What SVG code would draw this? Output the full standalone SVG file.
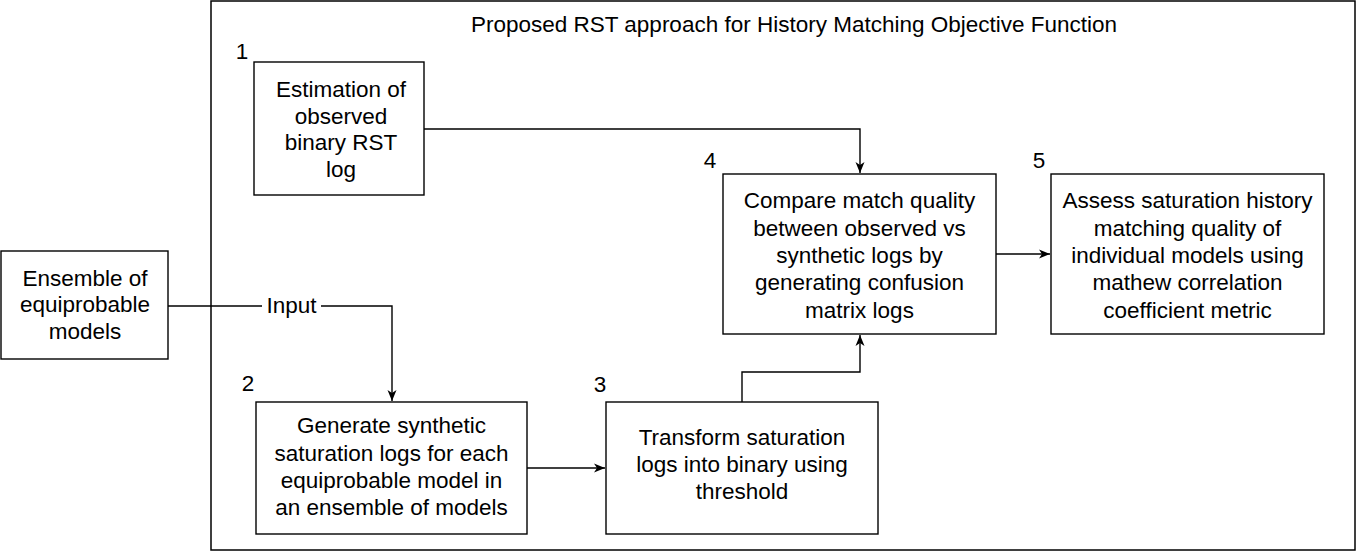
<svg xmlns="http://www.w3.org/2000/svg" width="1360" height="552" viewBox="0 0 1360 552">
<defs>
<style>
.box{fill:#fff;stroke:#000;stroke-width:1.4}
.frame{fill:none;stroke:#000;stroke-width:1.5}
.edge{fill:none;stroke:#000;stroke-width:1.4}
text{font-family:"Liberation Sans",Arial,Helvetica,sans-serif;font-size:22.5px;fill:#000}
.c{text-anchor:middle}
</style>
<marker id="arr" markerUnits="userSpaceOnUse" markerWidth="12" markerHeight="10" viewBox="0 0 12 10" refX="11" refY="5" orient="auto">
<path d="M0,0.5 L11,5 L0,9.5 L3,5 Z" fill="#000"/>
</marker>
</defs>
<rect width="1360" height="552" fill="#fff"/>
<g id="frame">
<rect class="frame" x="211" y="1" width="1144" height="549"/>
<text class="c" x="794" y="32">Proposed RST approach for History Matching Objective Function</text>
</g>
<g id="connectors">
<path class="edge" d="M424,129 H860 V173" marker-end="url(#arr)"/>
<path class="edge" d="M168,306 H262"/>
<path class="edge" d="M321,306 H392 V401" marker-end="url(#arr)"/>
<text class="c" x="291.5" y="313">Input</text>
<path class="edge" d="M527,468 H605" marker-end="url(#arr)"/>
<path class="edge" d="M742,402 V372 H860 V335" marker-end="url(#arr)"/>
<path class="edge" d="M996,254 H1050" marker-end="url(#arr)"/>
</g>
<g id="node-ensemble">
<rect class="box" x="1" y="251" width="167" height="108"/>
<text class="c" x="85" y="285.7">Ensemble of</text>
<text class="c" x="85" y="312.4">equiprobable</text>
<text class="c" x="85" y="339">models</text>
</g>
<g id="node-1">
<text class="c" x="242" y="59">1</text>
<rect class="box" x="254" y="62" width="170" height="133"/>
<text class="c" x="341" y="96.7">Estimation of</text>
<text class="c" x="341" y="123.5">observed</text>
<text class="c" x="341" y="150.3">binary RST</text>
<text class="c" x="341" y="177">log</text>
</g>
<g id="node-2">
<text class="c" x="248" y="391">2</text>
<rect class="box" x="256" y="402" width="271" height="132"/>
<text class="c" x="391.5" y="433.3">Generate synthetic</text>
<text class="c" x="391.5" y="460.6">saturation logs for each</text>
<text class="c" x="391.5" y="487.9">equiprobable model in</text>
<text class="c" x="391.5" y="515.2">an ensemble of models</text>
</g>
<g id="node-3">
<text class="c" x="600" y="392">3</text>
<rect class="box" x="606" y="402" width="272" height="132"/>
<text class="c" x="742" y="445">Transform saturation</text>
<text class="c" x="742" y="472">logs into binary using</text>
<text class="c" x="742" y="499">threshold</text>
</g>
<g id="node-4">
<text class="c" x="710" y="168">4</text>
<rect class="box" x="723" y="174" width="273" height="160"/>
<text class="c" x="859.5" y="208.3">Compare match quality</text>
<text class="c" x="859.5" y="235.6">between observed vs</text>
<text class="c" x="859.5" y="262.9">synthetic logs by</text>
<text class="c" x="859.5" y="290.2">generating confusion</text>
<text class="c" x="859.5" y="317.5">matrix logs</text>
</g>
<g id="node-5">
<text class="c" x="1039" y="168">5</text>
<rect class="box" x="1051" y="174" width="273" height="160"/>
<text class="c" x="1187.5" y="208.3">Assess saturation history</text>
<text class="c" x="1187.5" y="235.6">matching quality of</text>
<text class="c" x="1187.5" y="262.9">individual models using</text>
<text class="c" x="1187.5" y="290.2">mathew correlation</text>
<text class="c" x="1187.5" y="317.5">coefficient metric</text>
</g>
</svg>
